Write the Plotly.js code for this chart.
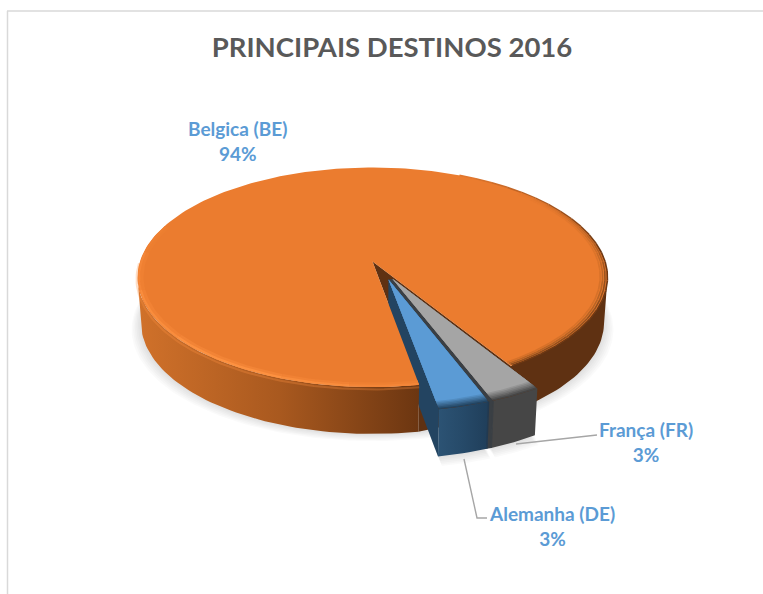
<!DOCTYPE html>
<html><head><meta charset="utf-8">
<script src="https://cdn.plot.ly/plotly-3.0.1.min.js"></script>
<style>html,body{margin:0;padding:0;background:#fff}</style></head>
<body><div id="chart" style="width:763px;height:594px"></div>
<script>
// data
const chartTitle = "PRINCIPAIS DESTINOS 2016";
const labels = ["França (FR)", "Alemanha (DE)", "Belgica (BE)"];
const values = [3, 3, 94];
const topColors = ["#a5a5a5", "#5b9bd5", "#eb7c2f"];
const wallColors = ["#464646", "#234461", "#5f3112"];
const explode = [0.17, 0.17, 0];
const explodeDir = [157.3, 163.3, 0];
const labelPos = [[646, 442], [552, 526], [237, 141]];

// projection of the tilted pie
const startAngle = 148.5, cx = 372.5, cy = 261.5, rB = 232.6, rA = 107.5, persp = 0.1435, depth = 45, nudge = 0.018;
const total = values.reduce((a, b) => a + b, 0);
const rad = d => d * Math.PI / 180;
let acc = startAngle;
const slices = values.map((v, i) => {
  const a0 = acc, a1 = acc + v / total * 360; acc = a1;
  const d = rad(explodeDir[i]);
  return {a0, a1, ex: explode[i] ? explode[i] * Math.sin(d) + nudge : 0, ey: explode[i] * Math.cos(d)};
});
function P(r, deg, s, low) {
  const u = r * Math.sin(rad(deg)) + s.ex, v = r * Math.cos(rad(deg)) + s.ey, w = 1 + persp * v;
  let x = cx + rB * u / w, y = cy - rA * v / w;
  if (low) { x = cx + (x - cx) * 0.985; y = y + depth + 2 * (y - cy) / 130; }
  return [x, y];
}
function arc(r, a0, a1, s, low) {
  const n = Math.max(2, Math.ceil(Math.abs(a1 - a0) / 1.5)), pts = [];
  for (let i = 0; i <= n; i++) pts.push(P(r, a0 + (a1 - a0) * i / n, s, low));
  return pts;
}
const traces = [];
function poly(pts, fill) {
  const t = {type: "scatter", mode: "lines", x: pts.map(p => p[0]).concat(pts[0][0]), y: pts.map(p => p[1]).concat(pts[0][1]),
    fill: "toself", line: {width: 0}, hoverinfo: "skip", showlegend: false};
  if (typeof fill === "string") t.fillcolor = fill; else t.fillgradient = fill;
  traces.push(t);
}
function line(pts, color, width) {
  traces.push({type: "scatter", mode: "lines", x: pts.map(p => p[0]), y: pts.map(p => p[1]),
    line: {color, width, shape: "linear"}, hoverinfo: "skip", showlegend: false});
}
function mix(a, b, t) {
  const h = c => [1, 3, 5].map(i => parseInt(c.substr(i, 2), 16));
  const A = h(a), B = h(b);
  return "rgb(" + A.map((x, i) => Math.round(x + (B[i] - x) * t)).join(",") + ")";
}
const [fr, de, be] = slices;
const sector = (r, s) => [P(0, 0, s)].concat(arc(r, s.a0, s.a1, s));
const sideAngle = Math.acos(-persp) * 180 / Math.PI; // where the projected rim is widest

// soft shadow below the pie
for (let k = 6; k >= 1; k--) {
  const off = k * 1.6;
  const ring = arc(1, 0, 360, be, true).map(p => [cx + (p[0] - cx) * (1 + off / 235), p[1] + off * 0.75]);
  poly(ring, "rgba(0,0,0,0.02)");
  [fr, de].forEach(s => {
    const b = arc(1, s.a0, s.a1, s, true);
    const pts = b.map(p => [p[0] + off * 0.4, p[1] + off]).concat([P(0.7, s.a1, s, true), P(0.7, s.a0, s, true)]);
    poly(pts, "rgba(0,0,0,0.02)");
  });
}

// rear orange wall on the right, and the notch left by the two pulled slices
poly(arc(1, sideAngle, fr.a0, be).concat(arc(1, fr.a0, sideAngle, be, true)), wallColors[2]);
poly([P(0, 0, be), P(1, fr.a0, be), P(1, fr.a0, be, true), P(1, de.a1, be, true), P(1, de.a1, be)], wallColors[2]);

// blue inner wall
poly([P(0, 0, de), P(1, de.a1, de), P(1, de.a1, de, true), P(0, 0, de, true)], wallColors[1]);

// orange front wall and top face
poly(arc(1, de.a1, 360 - sideAngle, be).concat(arc(1, 360 - sideAngle, de.a1, be, true)), {type: "horizontal", start: 139, stop: 419,
  colorscale: [[0, "#d0712a"], [0.5, "#a9591f"], [1, "#6c3611"]]});
poly(sector(1, be), topColors[2]);

// rim light on the near left edge
const rimSeg = [[290, 275, 0.2], [275, 255, 0.5], [255, 230, 0.8], [230, 200, 1], [200, 185, 0.8], [185, be.a0, 0.5]];
rimSeg.forEach(d => {
  line(arc(0.982, d[0], d[1], be), mix(topColors[2], "#ff9342", d[2] * 0.35), 3.5);
  line(arc(0.993, d[0], d[1], be), mix(topColors[2], "#ff9342", d[2] * 0.9), 2.2);
});
line(arc(1.004, 270, be.a0, be).map(p => [p[0], p[1] + 1.8]), "rgba(255,147,66,0.3)", 2);

// shaded rim on the right, growing toward the notch
[[1.0, "#6e3813", 20], [0.99, "#93501e", 40], [0.98, "#b86425", 40], [0.97, "#d67129", 40]].forEach(d => {
  for (let a = 20; a < fr.a0 - 0.3; a += 5) {
    const end = Math.min(a + 5, fr.a0 - 0.3);
    const f = Math.min(1, Math.max(0, (a - d[2]) / 60));
    if (f > 0) line(arc(d[0], a, end, be), mix(topColors[2], d[1], f), 1.6);
  }
});

// pulled slices: dark backing, walls, bevel blend, faces
poly([P(0, 0, fr), P(1, fr.a1, fr), P(1, fr.a1, fr, true), P(1, de.a0, de, true), P(1, de.a0, de), P(0, 0, de)], "#3a3f44");
[[fr, 0], [de, 1]].forEach(([s, i]) => {
  const wall = arc(1, s.a0, s.a1, s).concat(arc(1, s.a1, s.a0, s, true));
  if (i === 0) poly(wall, wallColors[0]);
  else poly(wall, {type: "horizontal", start: P(1, s.a1, s, true)[0], stop: P(1, s.a0, s, true)[0],
    colorscale: [[0, "#2c5374"], [0.5, "#264a69"], [1, "#203f5b"]]});
  const steps = 6;
  for (let k = 0; k <= steps; k++) {
    const r = 1 - 0.055 * k / steps;
    poly(sector(r, s), mix(wallColors[i], topColors[i], k / steps));
  }
});
// seam where the two pulled walls meet
line([P(1, fr.a1, fr), P(1, fr.a1, fr, true)], "#3a3f44", 1.5);
line([P(1, de.a0, de), P(1, de.a0, de, true)], "#22394f", 1.5);

// leader lines
const frLeader = [[516, 444], [597, 435]];
const deLeader = [[464, 459], [477, 518], [487, 518]];
line(frLeader, "#a6a6a6", 1.4);
line(deLeader, "#a6a6a6", 1.4);

const pct = v => Math.round(v / total * 100) + "%";
const layout = {
  width: 763, height: 594, margin: {l: 0, r: 0, t: 0, b: 0}, autosize: false,
  paper_bgcolor: "#fff", plot_bgcolor: "#fff", showlegend: false,
  xaxis: {range: [0, 763], visible: false, fixedrange: true},
  yaxis: {range: [594, 0], visible: false, fixedrange: true},
  title: {text: "<b>" + chartTitle + "</b>", x: 392 / 763, xanchor: "center", y: 1 - 47 / 594, yanchor: "middle",
    font: {family: "Lato, sans-serif", size: 27.5, color: "#595959"}},
  shapes: [
    {type: "line", xref: "x", yref: "y", x0: 7.5, x1: 7.5, y0: 11, y1: 594, line: {color: "#d9d9d9", width: 1.5}},
    {type: "line", xref: "x", yref: "y", x0: 7, x1: 763, y0: 11, y1: 11, line: {color: "#d9d9d9", width: 1.5}}
  ],
  annotations: labels.map((l, i) => ({
    text: "<b>" + l + "</b><br><b>" + pct(values[i]) + "</b>", x: labelPos[i][0], y: labelPos[i][1], xref: "x", yref: "y",
    showarrow: false, align: "center", xanchor: "center", yanchor: "middle",
    font: {family: "Lato, sans-serif", size: 19, color: "#5b9bd5"}
  }))
};
Plotly.newPlot("chart", traces, layout, {displayModeBar: false, staticPlot: true});
</script></body></html>
